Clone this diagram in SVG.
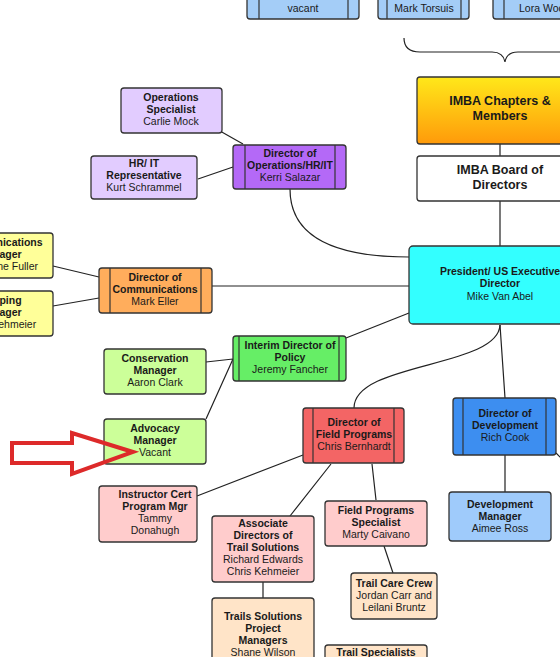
<svg xmlns="http://www.w3.org/2000/svg" width="560" height="657" viewBox="0 0 560 657">
<defs>
<linearGradient id="gold" x1="0" y1="0" x2="0" y2="1">
<stop offset="0" stop-color="#ffe81a"/>
<stop offset="1" stop-color="#ff9a0a"/>
</linearGradient>
<style>
.box{stroke:#333;stroke-width:1.3}
.t{font-family:"Liberation Sans",Arial,sans-serif;font-size:10.5px;fill:#1a1a1a;text-anchor:middle}
.b{font-weight:bold}
.big{font-size:12.5px;font-weight:bold}
.ln{stroke:#222;stroke-width:1.2;fill:none}
.in{stroke:#333;stroke-width:1.2}
</style>
</defs>
<rect width="560" height="657" fill="#ffffff"/>

<g id="connectors">
<path class="ln" d="M500 144V156M500 201V247"/>
<path class="ln" d="M220 131L243 144M198 179L233 167"/>
<path class="ln" d="M290 189C290 240,340 257,409 257"/>
<path class="ln" d="M53 266L99 277M53 306L99 298M212 286H409"/>
<path class="ln" d="M346 338L409 313"/>
<path class="ln" d="M206 362L233 359M206 419L233 359"/>
<path class="ln" d="M500 325C498 368,354 362,354 408"/>
<path class="ln" d="M500 325L505 398M505 455V492M556 453L562 459"/>
<path class="ln" d="M303 455L197 496M331 464L290 516M372 464L376 500M384 546L393 573M263 582V598"/>
<path class="ln" d="M404 38C404 48,410 52,420 52H492C500 52,504 56,505 62C506 56,510 52,518 52H560"/>
</g>

<g id="top-vacant">
<rect class="box" x="247" y="-30" width="112" height="49" rx="3" fill="#a4cdf7"/>
<line class="in" x1="259" y1="-30" x2="259" y2="19"/><line class="in" x1="348" y1="-30" x2="348" y2="19"/>
<text class="t" x="303" y="12">vacant</text>
</g>
<g id="top-torsuis">
<rect class="box" x="378" y="-30" width="91" height="49" rx="3" fill="#a4cdf7"/>
<line class="in" x1="387" y1="-30" x2="387" y2="19"/><line class="in" x1="461" y1="-30" x2="461" y2="19"/>
<text class="t" x="424" y="12">Mark Torsuis</text>
</g>
<g id="top-lora">
<rect class="box" x="493" y="-30" width="100" height="49" rx="3" fill="#a4cdf7"/>
<line class="in" x1="504" y1="-30" x2="504" y2="19"/>
<text class="t" x="519" y="12" style="text-anchor:start">Lora Woo</text>
</g>

<g id="chapters">
<rect class="box" x="417" y="77" width="160" height="67" rx="3" fill="url(#gold)"/>
<text class="t big" x="500" y="105">IMBA Chapters &amp;</text>
<text class="t big" x="500" y="120">Members</text>
</g>
<g id="board">
<rect class="box" x="417" y="156" width="160" height="45" rx="3" fill="#ffffff" stroke="#555"/>
<text class="t big" x="500" y="174">IMBA Board of</text>
<text class="t big" x="500" y="189">Directors</text>
</g>
<g id="president">
<rect class="box" x="409" y="246" width="170" height="78" rx="4" fill="#33ffff" stroke="#2a7c7c"/>
<text class="t b" x="500" y="275">President/ US Executive</text>
<text class="t b" x="500" y="287">Director</text>
<text class="t" x="500" y="300">Mike Van Abel</text>
</g>

<g id="ops-specialist">
<rect class="box" x="121" y="88" width="101" height="45" rx="3" fill="#e2ccff"/>
<text class="t b" x="171" y="101">Operations</text>
<text class="t b" x="171" y="113">Specialist</text>
<text class="t" x="171" y="125">Carlie Mock</text>
</g>
<g id="ops-director">
<rect class="box" x="233" y="145" width="113" height="44" rx="3" fill="#b469f7"/>
<line class="in" x1="245" y1="145" x2="245" y2="189"/><line class="in" x1="335" y1="145" x2="335" y2="189"/>
<text class="t b" x="290" y="157">Director of</text>
<text class="t b" x="290" y="169">Operations/HR/IT</text>
<text class="t" x="290" y="181">Kerri Salazar</text>
</g>
<g id="hr-it">
<rect class="box" x="91" y="156" width="106" height="43" rx="3" fill="#e2ccff"/>
<text class="t b" x="144" y="167">HR/ IT</text>
<text class="t b" x="144" y="179">Representative</text>
<text class="t" x="144" y="191">Kurt Schrammel</text>
</g>

<g id="comms-manager">
<rect class="box" x="-60" y="233" width="113" height="45" rx="3" fill="#ffff99"/>
<text class="t b" x="0" y="246">Communications</text>
<text class="t b" x="0" y="258">Manager</text>
<text class="t" x="38" y="270" style="text-anchor:end">ne Fuller</text>
</g>
<g id="mapping-manager">
<rect class="box" x="-60" y="291" width="113" height="45" rx="3" fill="#ffff99"/>
<text class="t b" x="0" y="304">Mapping</text>
<text class="t b" x="0" y="316">Manager</text>
<text class="t" x="0" y="328">Chris Kehmeier</text>
</g>
<g id="comms-director">
<rect class="box" x="99" y="268" width="113" height="45" rx="3" fill="#ffad5c"/>
<line class="in" x1="110" y1="268" x2="110" y2="313"/><line class="in" x1="201" y1="268" x2="201" y2="313"/>
<text class="t b" x="155" y="281">Director of</text>
<text class="t b" x="155" y="293">Communications</text>
<text class="t" x="155" y="305">Mark Eller</text>
</g>

<g id="policy-director">
<rect class="box" x="233" y="336" width="113" height="45" rx="3" fill="#66ee66"/>
<line class="in" x1="239" y1="336" x2="239" y2="381"/><line class="in" x1="339" y1="336" x2="339" y2="381"/>
<text class="t b" x="290" y="349">Interim Director of</text>
<text class="t b" x="290" y="361">Policy</text>
<text class="t" x="290" y="373">Jeremy Fancher</text>
</g>
<g id="conservation">
<rect class="box" x="104" y="349" width="102" height="45" rx="3" fill="#ccff99"/>
<text class="t b" x="155" y="362">Conservation</text>
<text class="t b" x="155" y="374">Manager</text>
<text class="t" x="155" y="386">Aaron Clark</text>
</g>
<g id="advocacy">
<rect class="box" x="104" y="419" width="102" height="45" rx="3" fill="#ccff99"/>
<text class="t b" x="155" y="432">Advocacy</text>
<text class="t b" x="155" y="444">Manager</text>
<text class="t" x="155" y="456">Vacant</text>
</g>

<g id="red-arrow">
<path d="M12 443H72V433L133 452L72 474V463H12Z" fill="none" stroke="#dd2a2a" stroke-width="4" stroke-linejoin="miter"/>
</g>

<g id="field-director">
<rect class="box" x="303" y="408" width="101" height="55" rx="3" fill="#f36565"/>
<line class="in" x1="313" y1="408" x2="313" y2="463"/><line class="in" x1="394" y1="408" x2="394" y2="463"/>
<text class="t b" x="354" y="426">Director of</text>
<text class="t b" x="354" y="438">Field Programs</text>
<text class="t" x="354" y="450">Chris Bernhardt</text>
</g>
<g id="dev-director">
<rect class="box" x="453" y="398" width="103" height="57" rx="3" fill="#3d8ef0"/>
<line class="in" x1="463" y1="398" x2="463" y2="455"/><line class="in" x1="546" y1="398" x2="546" y2="455"/>
<text class="t b" x="505" y="417">Director of</text>
<text class="t b" x="505" y="429">Development</text>
<text class="t" x="505" y="441">Rich Cook</text>
</g>
<g id="dev-manager">
<rect class="box" x="449" y="492" width="102" height="49" rx="3" fill="#9fcbfb"/>
<text class="t b" x="500" y="508">Development</text>
<text class="t b" x="500" y="520">Manager</text>
<text class="t" x="500" y="532">Aimee Ross</text>
</g>

<g id="instructor">
<rect class="box" x="99" y="486" width="98" height="56" rx="3" fill="#ffcccc"/>
<text class="t b" x="155" y="498">Instructor Cert</text>
<text class="t b" x="155" y="510">Program Mgr</text>
<text class="t" x="155" y="522">Tammy</text>
<text class="t" x="155" y="534">Donahugh</text>
</g>
<g id="associate">
<rect class="box" x="212" y="516" width="102" height="66" rx="3" fill="#ffcccc"/>
<text class="t b" x="263" y="527">Associate</text>
<text class="t b" x="263" y="539">Directors of</text>
<text class="t b" x="263" y="551">Trail Solutions</text>
<text class="t" x="263" y="563">Richard Edwards</text>
<text class="t" x="263" y="575">Chris Kehmeier</text>
</g>
<g id="fp-specialist">
<rect class="box" x="325" y="501" width="102" height="45" rx="3" fill="#ffcccc"/>
<text class="t b" x="376" y="514">Field Programs</text>
<text class="t b" x="376" y="526">Specialist</text>
<text class="t" x="376" y="538">Marty Caivano</text>
</g>
<g id="trail-care">
<rect class="box" x="351" y="573" width="86" height="46" rx="3" fill="#ffe4c8"/>
<text class="t b" x="394" y="587">Trail Care Crew</text>
<text class="t" x="394" y="599">Jordan Carr and</text>
<text class="t" x="394" y="611">Leilani Bruntz</text>
</g>
<g id="project-managers">
<rect class="box" x="212" y="598" width="102" height="80" rx="3" fill="#ffe4c8"/>
<text class="t b" x="263" y="620">Trails Solutions</text>
<text class="t b" x="263" y="632">Project</text>
<text class="t b" x="263" y="644">Managers</text>
<text class="t" x="263" y="656">Shane Wilson</text>
</g>
<g id="trail-specialists">
<rect class="box" x="325" y="645" width="102" height="40" rx="3" fill="#ffe4c8"/>
<text class="t b" x="376" y="656">Trail Specialists</text>
</g>
</svg>
